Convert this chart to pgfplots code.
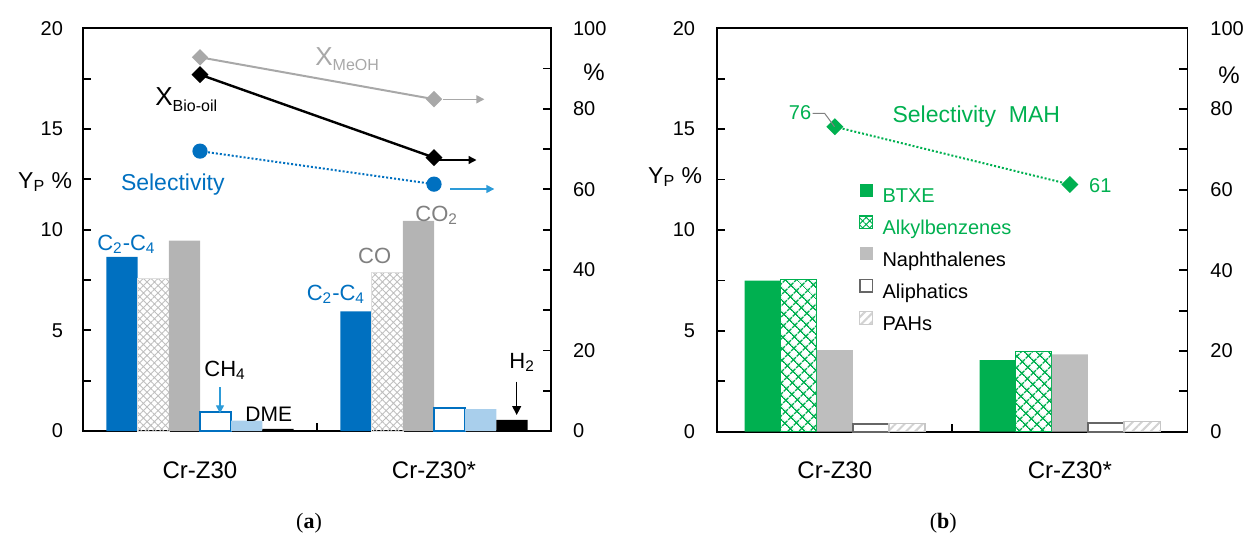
\documentclass[border=0pt]{standalone}
\usepackage{pgfplots}
\pgfplotsset{compat=1.18}
\usepackage{fontspec}
\setmainfont{Liberation Sans}
\newfontfamily\seriffont{Liberation Serif}
\usetikzlibrary{patterns.meta,arrows.meta}
\definecolor{myblue}{HTML}{0070C0}
\definecolor{lblue}{HTML}{A9CFEC}
\definecolor{arrblue}{HTML}{2D9BD8}
\definecolor{mgray}{HTML}{B4B4B4}
\definecolor{ngray}{HTML}{BEBEBE}
\definecolor{lgray}{HTML}{A8A8A8}
\definecolor{tgray}{HTML}{808080}
\definecolor{mgreen}{HTML}{00B050}
\pgfplotsset{
  /pgf/number format/assume math mode=true,
  legsq/.style={legend image code/.code={\draw[#1] (0pt,0.4pt) rectangle (6.35pt,6.75pt);}},
  base/.style={scale only axis, anchor=south west, clip=false,
    xmin=-0.5, xmax=1.5, tick align=inside, major tick length=4pt,
    axis line style={line width=0.9pt}, every tick/.style={line width=0.9pt, black},
    ticklabel style={font=\fontsize{10}{12}\selectfont}},
}
\begin{document}
\begin{tikzpicture}
\useasboundingbox (0,0) rectangle (621.5pt,266pt);
% ================= panel (a) bars =================
\begin{axis}[base, at={(41.5pt,50.5pt)}, width=234pt, height=201.35pt,
  ymin=0, ymax=20, ytick={0,2.5,...,20}, yticklabels={0,,5,,10,,15,,20},
  ytick pos=left, yticklabel style={xshift=-6.5pt},
  xtick={0.5}, xticklabels={}, xtick pos=left,
  extra x ticks={0,1}, extra x tick labels={Cr-Z30,Cr-Z30*},
  extra x tick style={major tick length=0pt},
  xticklabel style={anchor=center, yshift=-19.5pt, font=\fontsize{12}{14}\selectfont}]
\addplot[ybar, bar width=15.6pt, bar shift=-39pt, fill=myblue, draw=none] coordinates {(0,8.65) (1,5.94)};
\addplot[ybar, bar width=15.6pt, bar shift=-23.4pt, draw=gray!25, line width=0.3pt,
  pattern={Hatch[angle=45,distance=2.6pt,line width=0.45pt]}, pattern color=gray!50] coordinates {(0,7.58) (1,7.86)};
\addplot[ybar, bar width=15.6pt, bar shift=-7.8pt, fill=mgray, draw=none] coordinates {(0,9.46) (1,10.44)};
\addplot[ybar, bar width=15.6pt, bar shift=7.8pt, fill=white, draw=myblue, line width=1pt] coordinates {(0,0.96) (1,1.12)};
\addplot[ybar, bar width=15.6pt, bar shift=23.4pt, fill=lblue, draw=none] coordinates {(0,0.51) (1,1.09)};
\addplot[ybar, bar width=15.6pt, bar shift=39pt, fill=black, draw=none] coordinates {(0,0.1) (1,0.55)};
\end{axis}
% ================= panel (a) lines =================
\begin{axis}[base, at={(41.5pt,50.5pt)}, width=234pt, height=201.35pt,
  ymin=0, ymax=100, ytick={0,10,...,100}, yticklabels={0,,20,,40,,60,,80,,100},
  axis y line*=right, axis x line=none, yticklabel style={xshift=7.5pt}]
\addplot[lgray, line width=1pt, mark=square*, mark size=2.4pt, mark options={rotate=45, fill=lgray}] coordinates {(0,92.8) (1,82.4)};
\addplot[black, line width=1.2pt, mark=square*, mark size=2.4pt, mark options={rotate=45, fill=black}] coordinates {(0,88.5) (1,67.9)};
\addplot[myblue, line width=1pt, dash pattern=on 1pt off 1pt, mark=*, mark size=3.3pt, mark options={solid, fill=myblue}] coordinates {(0,69.5) (1,61.3)};
\end{axis}
% ================= panel (b) bars =================
\begin{axis}[base, at={(358.65pt,50.15pt)}, width=235.05pt, height=201.7pt,
  ymin=0, ymax=20, ytick={0,2.5,...,20}, yticklabels={0,,5,,10,,15,,20},
  ytick pos=left, yticklabel style={xshift=-7.6pt},
  xtick={0.5}, xticklabels={}, xtick pos=left,
  extra x ticks={0,1}, extra x tick labels={Cr-Z30,Cr-Z30*},
  extra x tick style={major tick length=0pt},
  xticklabel style={anchor=center, yshift=-19.5pt, font=\fontsize{12}{14}\selectfont},
  legend cell align=left,
  legend style={at={(0.3002,0.6145)}, anchor=north west, draw=none, fill=none,
    inner sep=0pt, row sep=4.3pt, font=\fontsize{10}{12}\selectfont,
    nodes={inner sep=0pt, text height=7.2pt, text depth=2pt},
    /tikz/every odd column/.append style={column sep=4.5pt}}]
\addplot[ybar, bar width=18.05pt, bar shift=-36.1pt, fill=mgreen, draw=none,
  legsq={fill=mgreen, draw=none}] coordinates {(0,7.49) (1,3.55)};
\addlegendentry{\textcolor{mgreen}{BTXE}}
\addplot[ybar, bar width=18.05pt, bar shift=-18.05pt, draw=mgreen, line width=0.6pt,
  pattern={Hatch[angle=45,distance=4pt,line width=0.8pt]}, pattern color=mgreen,
  legsq={draw=mgreen, line width=0.6pt, pattern={Hatch[angle=45,distance=2.5pt,line width=0.5pt]}, pattern color=mgreen}] coordinates {(0,7.56) (1,3.97)};
\addlegendentry{\textcolor{mgreen}{Alkylbenzenes}}
\addplot[ybar, bar width=18.05pt, bar shift=0pt, fill=ngray, draw=none,
  legsq={fill=ngray, draw=none}] coordinates {(0,4.05) (1,3.84)};
\addlegendentry{Naphthalenes}
\addplot[ybar, bar width=18.05pt, bar shift=18.05pt, fill=white, draw=black!60, line width=0.8pt,
  legsq={fill=white, draw=black!60, line width=0.7pt}] coordinates {(0,0.37) (1,0.42)};
\addlegendentry{Aliphatics}
\addplot[ybar, bar width=18.05pt, bar shift=36.1pt, draw=gray!45, line width=0.6pt,
  pattern={Lines[angle=45,distance=3.2pt,line width=1pt]}, pattern color=gray!35,
  legsq={draw=gray!40, line width=0.5pt, pattern={Lines[angle=45,distance=3pt,line width=1pt]}, pattern color=gray!35}] coordinates {(0,0.42) (1,0.50)};
\addlegendentry{PAHs}
\end{axis}
% ================= panel (b) line =================
\begin{axis}[base, at={(358.65pt,50.15pt)}, width=235.05pt, height=201.7pt,
  ymin=0, ymax=100, ytick={0,10,...,100}, yticklabels={0,,20,,40,,60,,80,,100},
  axis y line*=right, axis x line=none, yticklabel style={xshift=8pt}]
\addplot[mgreen, line width=1pt, dash pattern=on 1pt off 1pt, mark=square*, mark size=2.5pt, mark options={rotate=45, solid, fill=mgreen}] coordinates {(0,75.6) (1,61.3)};
\end{axis}
% ================= annotations (a) =================
\node[anchor=base west, inner sep=0pt, text=lgray, font=\fontsize{13}{15}\selectfont] at (157.5pt,233.5pt) {X\raisebox{-2.5pt}{\fontsize{8}{9}\selectfont MeOH}};
\node[anchor=base west, inner sep=0pt, font=\fontsize{13}{15}\selectfont] at (77.5pt,213.5pt) {X\raisebox{-3pt}{\fontsize{8}{9}\selectfont Bio-oil}};
\node[anchor=base west, inner sep=0pt, text=myblue, font=\fontsize{11.5}{13}\selectfont] at (60.3pt,171pt) {Selectivity};
\node[anchor=base west, inner sep=0pt, text=myblue, font=\fontsize{11}{13}\selectfont] at (48.45pt,141pt) {C\textsubscript{2}-C\textsubscript{4}};
\node[anchor=base west, inner sep=0pt, text=myblue, font=\fontsize{11}{13}\selectfont] at (153.2pt,116pt) {C\textsubscript{2}-C\textsubscript{4}};
\node[anchor=base west, inner sep=0pt, text=tgray, font=\fontsize{11}{13}\selectfont] at (178.9pt,134.35pt) {CO};
\node[anchor=base west, inner sep=0pt, text=tgray, font=\fontsize{11}{13}\selectfont] at (207.5pt,155.15pt) {CO\textsubscript{2}};
\node[anchor=base west, inner sep=0pt, font=\fontsize{11}{13}\selectfont] at (102pt,77.65pt) {CH\textsubscript{4}};
\node[anchor=base west, inner sep=0pt, font=\fontsize{10.5}{12}\selectfont] at (122.5pt,55.15pt) {DME};
\node[anchor=base west, inner sep=0pt, font=\fontsize{11}{13}\selectfont] at (254.5pt,81.85pt) {H\textsubscript{2}};
\draw[arrblue, line width=0.6pt, -{Triangle[length=4pt,width=4pt]}] (110pt,72.35pt) -- (110pt,59.35pt);
\draw[black, line width=0.6pt, -{Triangle[length=4.5pt,width=4.5pt]}] (258.35pt,75.15pt) -- (258.35pt,58.5pt);
\draw[lgray, line width=0.7pt, -{Triangle[length=4pt,width=4pt]}] (221.5pt,216.35pt) -- (242.2pt,216.35pt);
\draw[black, line width=0.7pt, -{Triangle[length=4pt,width=4pt]}] (219.5pt,186pt) -- (238.25pt,186pt);
\draw[arrblue, line width=0.7pt, -{Triangle[length=4pt,width=4pt]}] (225pt,171.5pt) -- (247.15pt,171.5pt);
\node[anchor=base west, inner sep=0pt, font=\fontsize{11.5}{13}\selectfont] at (8.9pt,171.85pt) {Y\textsubscript{P} \%};
\node[inner sep=0pt, font=\fontsize{12}{14}\selectfont] at (297pt,229.75pt) {\%};
\node[inner sep=0pt, font=\seriffont\fontsize{11}{13}\selectfont] at (154.5pt,4.5pt) {(\textbf{a})};
% ================= annotations (b) =================
\node[anchor=base west, inner sep=0pt, font=\fontsize{11.5}{13}\selectfont] at (323.9pt,174.35pt) {Y\textsubscript{P} \%};
\node[inner sep=0pt, font=\fontsize{12}{14}\selectfont] at (614.5pt,228.5pt) {\%};
\node[anchor=base west, inner sep=0pt, text=mgreen, font=\fontsize{11.5}{13}\selectfont] at (446.1pt,204.65pt) {Selectivity\ \ MAH};
\node[inner sep=0pt, text=mgreen, font=\fontsize{10}{12}\selectfont] at (400pt,209.5pt) {76};
\node[anchor=west, inner sep=0pt, text=mgreen, font=\fontsize{10}{12}\selectfont] at (544.4pt,173.25pt) {61};
\draw[gray, line width=0.5pt] (406.35pt,209.35pt) -- (412.3pt,209.35pt) -- (417.25pt,202.65pt);
\node[inner sep=0pt, font=\seriffont\fontsize{11}{13}\selectfont] at (471.65pt,4.5pt) {(\textbf{b})};
\end{tikzpicture}
\end{document}
